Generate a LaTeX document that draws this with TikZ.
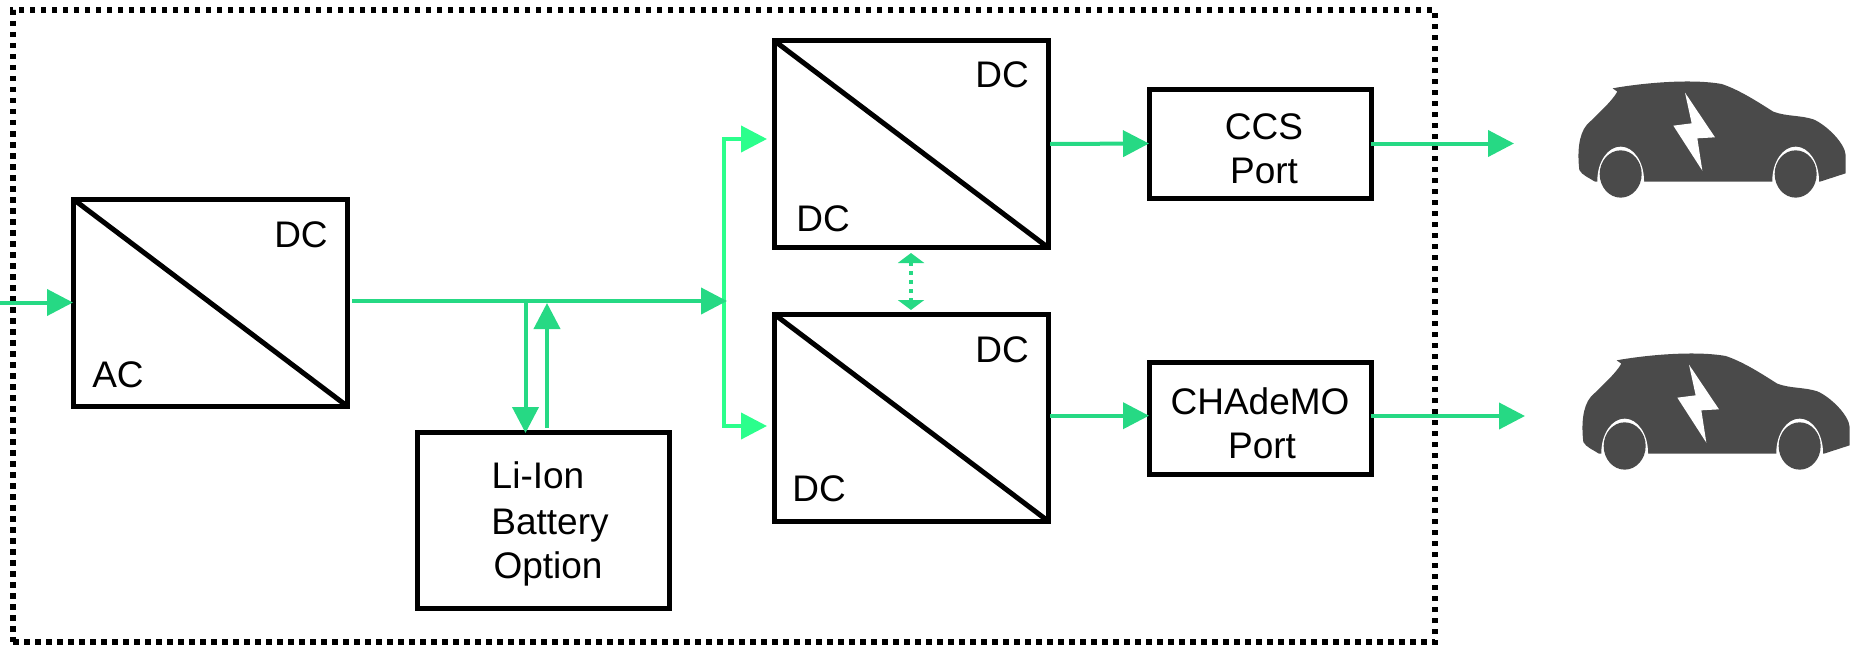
\documentclass[tikz,border=0pt]{standalone}
\usepackage{fontspec}
\setmainfont{Liberation Sans}
\usetikzlibrary{arrows.meta}
\definecolor{gA}{HTML}{26D984}
\definecolor{gB}{HTML}{2BFF8C}
\definecolor{carc}{HTML}{4A4A4A}
\tikzset{
  conv/.style={draw=black,line width=5pt,fill=none,rectangle,inner sep=0pt,outer sep=0pt},
  lbl/.style={anchor=base,inner sep=0pt,font=\fontsize{37}{44}\selectfont},
  flow/.style={draw=gA,line width=4pt,-{Triangle[length=26pt,width=26pt]}},
  flowb/.style={draw=gB,line width=4pt,-{Triangle[length=26pt,width=26pt]}},
  diag/.style={draw=black,line width=5pt},
  car/.pic={
    \begin{scope}[x=0.3333pt,y=-0.3333pt]
      \fill[carc] (218,85) .. controls (300,70) and (450,55) .. (545,72)
        .. controls (600,90) and (660,130) .. (700,155)
        .. controls (740,170) and (780,165) .. (820,178)
        .. controls (860,195) and (915,250) .. (917,285)
        -- (917,340) -- (840,365) -- (165,365)
        .. controls (150,355) and (125,345) .. (118,330)
        .. controls (112,280) and (115,225) .. (140,195)
        .. controls (170,165) and (215,125) .. (232,95) -- cycle;
      \fill[white] (172,367) -- (172,362) arc[start angle=180,end angle=360,x radius=70,y radius=102] -- (312,367) -- cycle;
      \fill[white] (697,367) -- (697,362) arc[start angle=180,end angle=360,x radius=70,y radius=102] -- (837,367) -- cycle;
      \fill[carc] (242,342) ellipse[x radius=63,y radius=71];
      \fill[carc] (767,342) ellipse[x radius=63,y radius=71];
      \fill[white] (435,98) -- (525,232) -- (472,235) -- (487,332) -- (400,197) -- (455,190) -- cycle;
    \end{scope}
  }
}
\begin{document}
\begin{tikzpicture}[x=1pt,y=-1pt]
\useasboundingbox (0,0) rectangle (1857,645);
% frame
\node[draw=black,line width=5.5pt,dash pattern=on 5.5pt off 5.5pt,rectangle,inner sep=0pt,minimum width=1422pt,minimum height=632pt] (frame) at (724,326) {};
% boxes
\node[conv,minimum width=274pt,minimum height=207pt] (acdc) at (210,302.5) {};
\node[conv,minimum width=274pt,minimum height=207pt] (dcup) at (911,144) {};
\node[conv,minimum width=274pt,minimum height=207pt] (dclo) at (911,417.5) {};
\node[conv,minimum width=252pt,minimum height=176pt] (batt) at (543,520.5) {};
\node[conv,minimum width=222pt,minimum height=109pt] (ccs) at (1260,143.5) {};
\node[conv,minimum width=222pt,minimum height=112pt] (cha) at (1260,418) {};
% diagonals
\draw[diag] (acdc.north west) -- (acdc.south east);
\draw[diag] (dcup.north west) -- (dcup.south east);
\draw[diag] (dclo.north west) -- (dclo.south east);
% labels
\node[lbl] (l1) at (301,247) {DC};
\node[lbl] (l2) at (118,387) {AC};
\node[lbl] (l3) at (1002,87) {DC};
\node[lbl] (l4) at (823,231) {DC};
\node[lbl] (l5) at (1002,362) {DC};
\node[lbl] (l6) at (819,501) {DC};
\node[lbl] (l7) at (538,488) {Li-Ion};
\node[lbl] (l8) at (550,534) {Battery};
\node[lbl] (l9) at (548,578) {Option};
\node[lbl] (l10) at (1264,139) {CCS};
\node[lbl] (l11) at (1264,183) {Port};
\node[lbl] (l12) at (1260,414) {CHAdeMO};
\node[lbl] (l13) at (1262,458) {Port};
% cars
\pic (car1) at (1540,60) {car};
\pic (car2) at (1544,332) {car};
% free ends and junctions
\coordinate (inL) at (0,302.5);
\coordinate (busS) at (352,301);
\coordinate (busE) at (727,301);
\coordinate (dn0) at (525.5,301);
\coordinate (dn1) at (525.5,433);
\coordinate (up0) at (547,428);
\coordinate (up1) at (547,303);
\coordinate (sp) at (724,301);
\coordinate (t1) at (767,139);
\coordinate (t2) at (767,426);
\coordinate (o1) at (1514,143.5);
\coordinate (o2) at (1525,416);
% connectors
\draw[flow] (inL) -- (acdc.west);
\draw[flowb] (sp) |- (t1);
\draw[flowb] (sp) |- (t2);
\draw[flow] (busS) -- (busE);
\draw[flow] (dn0) -- (dn1);
\draw[flow] (up0) -- (up1);
\draw[flow] ([xshift=2pt]dcup.east) -- (ccs.west);
\draw[flow] ([xshift=2pt,yshift=1.8pt]dclo.east) -- ([yshift=2.3pt]cha.west);
\draw[flow] (ccs.east) -- (o1);
\draw[flow] ([yshift=2pt]cha.east) -- (o2);
\draw[draw=gA,line width=4pt,dash pattern=on 4pt off 5pt,{Triangle[length=10pt,width=26pt]}-{Triangle[length=10pt,width=26pt]}] ([yshift=-5.5pt]dcup.south) -- ([yshift=4pt]dclo.north);
\end{tikzpicture}
\end{document}
